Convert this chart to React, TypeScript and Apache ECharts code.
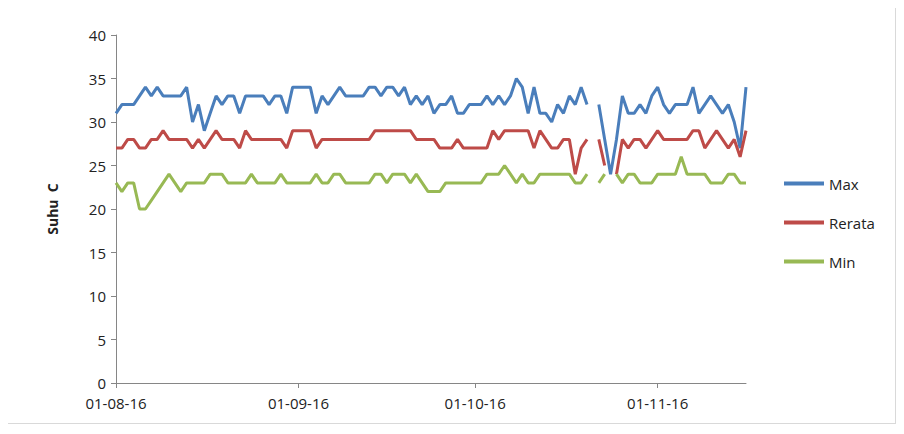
import React, { useEffect, useRef } from "react";
import * as echarts from "echarts";

const maxVals = [31,32,32,32,33,34,33,34,33,33,33,33,34,30,32,29,31,33,32,33,33,31,33,33,33,33,32,33,33,31,34,
34,34,34,31,33,32,33,34,33,33,33,33,34,34,33,34,34,33,34,32,33,32,33,31,32,32,33,31,31,32,
32,32,33,32,33,32,33,35,34,31,34,31,31,30,32,31,33,32,34,32,null,32,28,24,28,33,31,31,32,31,33,
34,32,31,32,32,32,34,31,32,33,32,31,32,30,27,34];
const rerataVals = [27,27,28,28,27,27,28,28,29,28,28,28,28,27,28,27,28,29,28,28,28,27,29,28,28,28,28,28,28,27,29,
29,29,29,27,28,28,28,28,28,28,28,28,28,29,29,29,29,29,29,29,28,28,28,28,27,27,27,28,27,27,
27,27,27,29,28,29,29,29,29,29,27,29,28,27,27,28,28,24,27,28,null,28,25,null,24,28,27,28,28,27,28,
29,28,28,28,28,28,29,29,27,28,29,28,27,28,26,29];
const minVals = [23,22,23,23,20,20,21,22,23,24,23,22,23,23,23,23,24,24,24,23,23,23,23,24,23,23,23,23,24,23,23,
23,23,23,24,23,23,24,24,23,23,23,23,23,24,24,23,24,24,24,23,24,23,22,22,22,23,23,23,23,23,
23,23,24,24,24,25,24,23,24,23,23,24,24,24,24,24,24,23,23,24,null,23,24,null,24,23,24,24,23,23,23,
24,24,24,24,26,24,24,24,24,23,23,23,24,24,23,23];

const pad = (n: number) => (n < 10 ? "0" + n : "" + n);
const dates: string[] = [];
{
  const d = new Date(2016, 7, 1);
  for (let i = 0; i < maxVals.length; i++) {
    dates.push(pad(d.getDate()) + "-" + pad(d.getMonth() + 1) + "-16");
    d.setDate(d.getDate() + 1);
  }
}

export default function App() {
  const ref = useRef<HTMLDivElement>(null);
  useEffect(() => {
    const chart = echarts.init(ref.current!, null, { renderer: "svg" });
    const isMonth = (i: number) => dates[i].startsWith("01-");
    const font = "'Open Sans', 'Liberation Sans', Arial, sans-serif";
    chart.setOption({
      animation: false,
      textStyle: { fontFamily: font },
      grid: { left: 115, right: 149, top: 34, bottom: 40 },
      legend: {
        orient: "vertical", left: 778, top: 170, itemGap: 24,
        icon: "rect", itemWidth: 40, itemHeight: 4,
        textStyle: { fontSize: 15, color: "#222", fontFamily: font },
        data: ["Max", "Rerata", "Min"],
      },
      xAxis: {
        type: "category", data: dates, boundaryGap: false,
        axisLine: { lineStyle: { color: "#868686" } },
        axisTick: { interval: (i: number) => isMonth(i), length: 5, lineStyle: { color: "#868686" } },
        axisLabel: { interval: (i: number) => isMonth(i), color: "#222", fontSize: 15, margin: 12 },
      },
      yAxis: {
        type: "value", min: 0, max: 40, interval: 5,
        name: "Suhu  C", nameLocation: "middle", nameGap: 57, nameRotate: 90,
        nameTextStyle: { fontWeight: "bold", fontSize: 14, color: "#222" },
        axisLine: { show: true, lineStyle: { color: "#868686" } },
        axisTick: { show: true, length: 5, lineStyle: { color: "#868686" } },
        splitLine: { show: false },
        axisLabel: { color: "#222", fontSize: 15, margin: 10 },
      },
      series: [
        { name: "Max", type: "line", data: maxVals, color: "#4a7ebb", showSymbol: false, lineStyle: { width: 3 } },
        { name: "Rerata", type: "line", data: rerataVals, color: "#be4b48", showSymbol: false, lineStyle: { width: 3 } },
        { name: "Min", type: "line", data: minVals, color: "#98b954", showSymbol: false, lineStyle: { width: 3 } },
      ],
    });
    return () => chart.dispose();
  }, []);
  return (
    <div style={{ width: 896, height: 424, border: "1px solid #d9d9d9", boxSizing: "border-box", margin: "-8px 0 0 -8px", background: "#fff" }}>
      <div ref={ref} style={{ width: 894, height: 422 }} />
    </div>
  );
}
